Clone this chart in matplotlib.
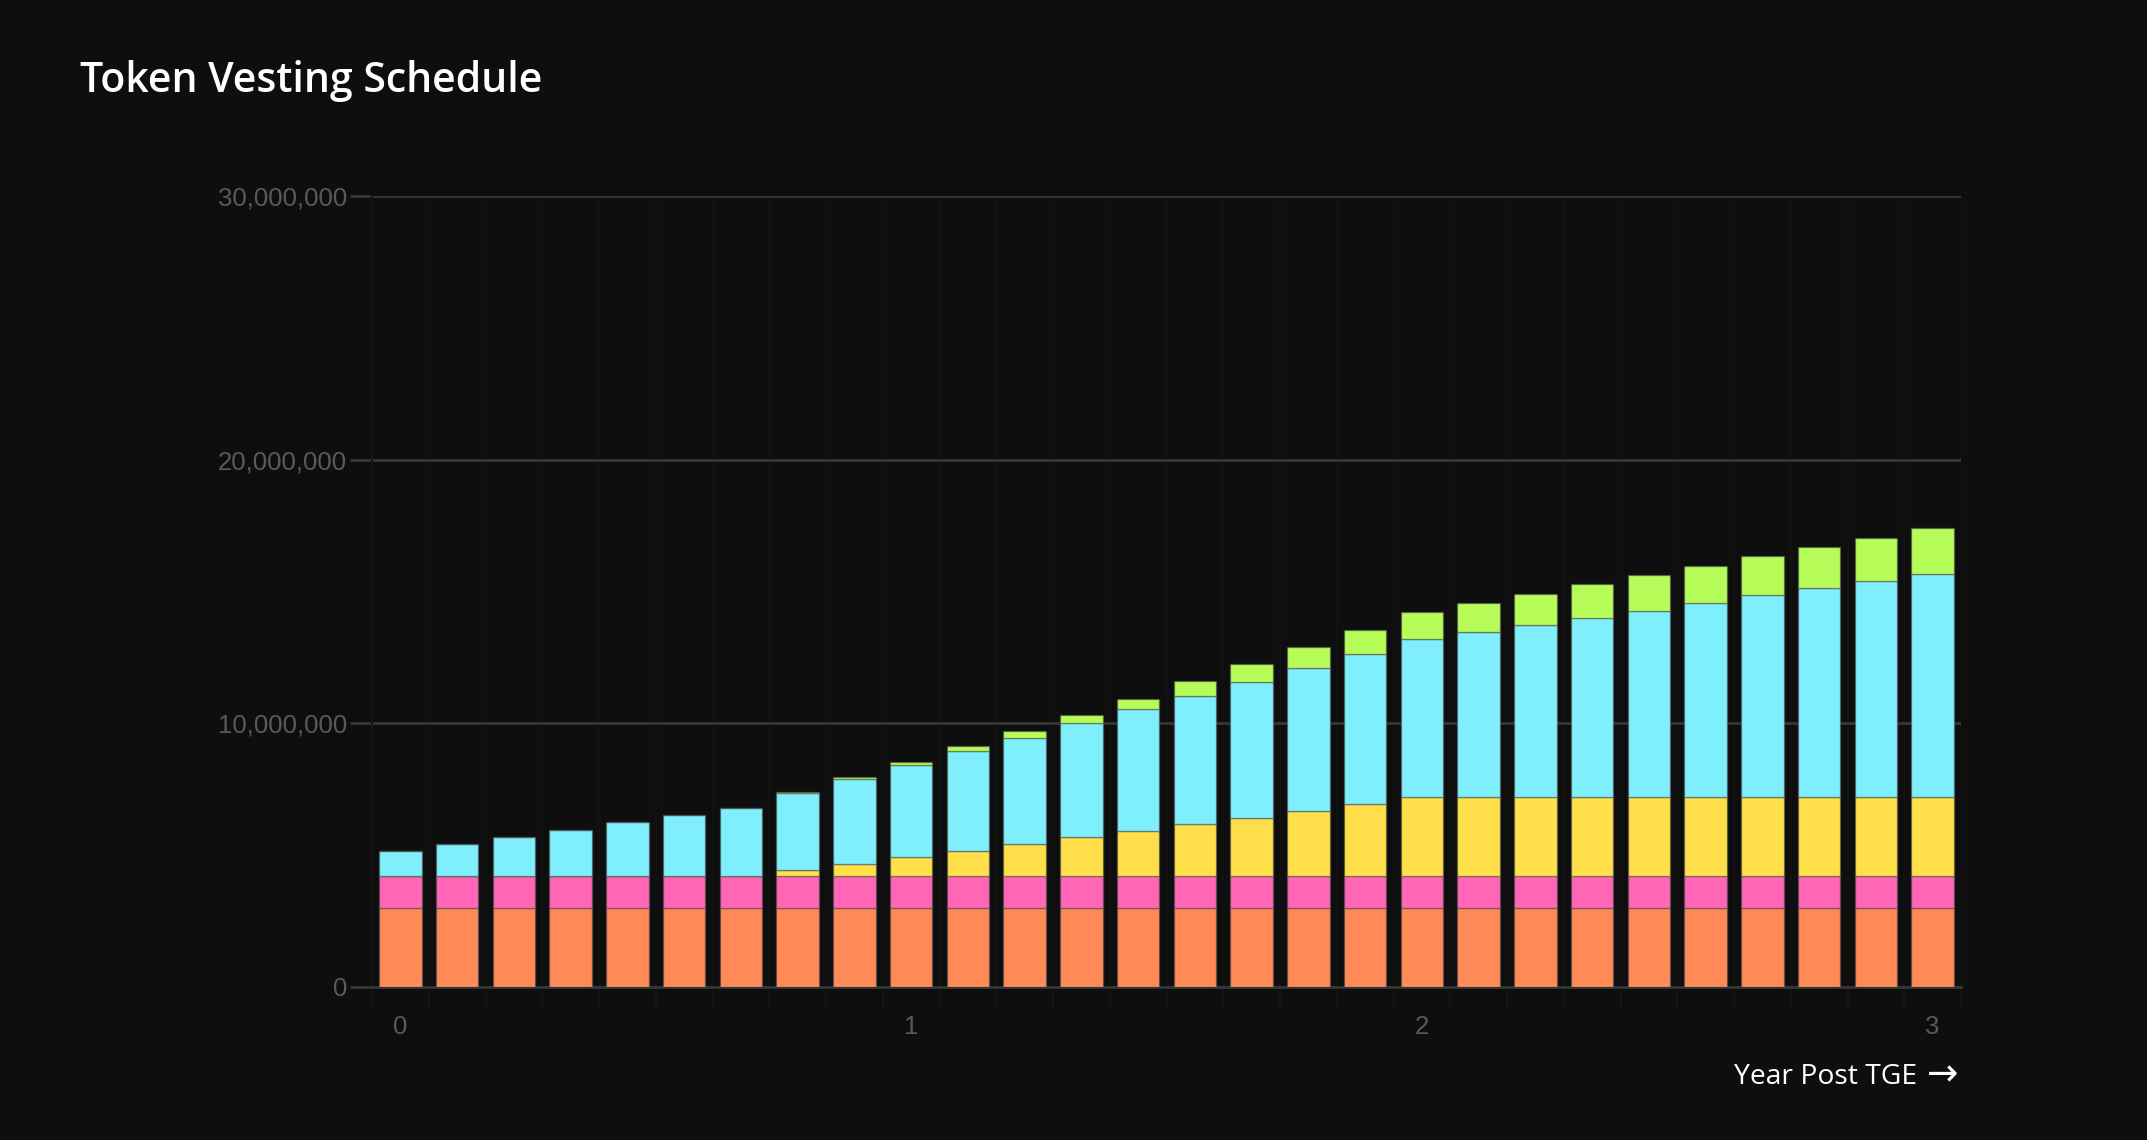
import numpy as np
import matplotlib
matplotlib.use("Agg")
import matplotlib.pyplot as plt

# months after TGE (one bar per month, 0..27)
months = list(range(28))
year_labels = {0: "0", 9: "1", 18: "2", 27: "3"}

# tokens unlocked per bucket (millions)
orange = [3.0, 3.0, 3.0, 3.0, 3.0, 3.0, 3.0, 3.0, 3.0, 3.0, 3.0, 3.0, 3.0, 3.0,
          3.0, 3.0, 3.0, 3.0, 3.0, 3.0, 3.0, 3.0, 3.0, 3.0, 3.0, 3.0, 3.0, 3.0]
pink = [1.2, 1.2, 1.2, 1.2, 1.2, 1.2, 1.2, 1.2, 1.2, 1.2, 1.2, 1.2, 1.2, 1.2,
        1.2, 1.2, 1.2, 1.2, 1.2, 1.2, 1.2, 1.2, 1.2, 1.2, 1.2, 1.2, 1.2, 1.2]
yellow = [0, 0, 0, 0, 0, 0, 0, 0.24, 0.48, 0.72, 0.97, 1.22, 1.48, 1.73,
          1.99, 2.22, 2.48, 2.73, 3.0, 3.0, 3.0, 3.0, 3.0, 3.0, 3.0, 3.0, 3.0, 3.0]
cyan = [0.97, 1.23, 1.50, 1.77, 2.05, 2.32, 2.60, 2.93, 3.20, 3.49, 3.78, 4.03, 4.32, 4.60,
        4.86, 5.16, 5.43, 5.70, 5.98, 6.27, 6.53, 6.80, 7.07, 7.38, 7.65, 7.92, 8.20, 8.48]
green = [0, 0, 0, 0, 0, 0, 0, 0.04, 0.07, 0.14, 0.18, 0.25, 0.30, 0.40,
         0.54, 0.67, 0.78, 0.92, 1.03, 1.10, 1.19, 1.27, 1.36, 1.40, 1.48, 1.57, 1.64, 1.71]

series = [orange, pink, yellow, cyan, green]
colors = ["#FF8A57", "#FF66B6", "#FFE04A", "#80EFFD", "#B6FD5A"]

bg = "#0E0E0E"
fig = plt.figure(figsize=(21.47, 11.40), dpi=100, facecolor=bg)
ax = fig.add_axes([372 / 2147, 1 - 987 / 1140, (1961 - 372) / 2147, (987 - 196) / 1140])
ax.set_facecolor(bg)

x = np.array(months)
bottom = np.zeros(len(months))
for vals, c in zip(series, colors):
    v = np.array(vals) * 1e6
    ax.bar(x, v, bottom=bottom, width=0.75, color=c,
           edgecolor=(0.3, 0.3, 0.3, 0.5), linewidth=1.0, zorder=3)
    bottom += v

ax.set_xlim(-0.5, 27.5)
ax.set_ylim(0, 30e6)

# y axis
ax.set_yticks([0, 10e6, 20e6, 30e6])
ax.set_yticklabels(["0", "10,000,000", "20,000,000", "30,000,000"])
ax.yaxis.grid(True, color="#363636", linewidth=2, zorder=0)
ax.tick_params(axis="y", length=16, width=2, color="#363636", pad=2,
               labelsize=18.5, labelcolor="#5a5a5a")

# x axis: labels at bar centres, barely visible lines at bar boundaries
ax.set_xticks(x)
ax.set_xticklabels([year_labels.get(m, "") for m in months])
ax.set_xticks(np.arange(-0.5, 28, 1), minor=True)
ax.xaxis.grid(True, which="minor", color="#111111", linewidth=1.5, zorder=0)
ax.tick_params(axis="x", which="major", length=0, pad=20, labelsize=18.5, labelcolor="#5a5a5a")
ax.tick_params(axis="x", which="minor", length=16, width=1.5, color="#131313")

for lab in ax.get_xticklabels() + ax.get_yticklabels():
    lab.set_fontfamily("Liberation Sans")

for s in ["top", "right"]:
    ax.spines[s].set_visible(False)
ax.spines["left"].set_color("#151515")
ax.spines["left"].set_linewidth(1.5)
ax.spines["bottom"].set_color("#363636")
ax.spines["bottom"].set_linewidth(2)

fig.text(80 / 2147, 1 - 81 / 1140, "Token Vesting Schedule", color="white",
         fontsize=29.5, fontweight="semibold", family=["Open Sans", "DejaVu Sans"],
         ha="left", va="center")
fig.text(1917 / 2147, 1 - 1077 / 1140, "Year Post TGE", color="white",
         fontsize=20.3, family=["Open Sans", "DejaVu Sans"], ha="right", va="center")
fig.text(1958 / 2147, 1 - 1075 / 1140, "\u2192", color="white",
         fontsize=27, family="DejaVu Sans", ha="right", va="center")

fig.savefig("out.png", dpi=100, facecolor=bg)
